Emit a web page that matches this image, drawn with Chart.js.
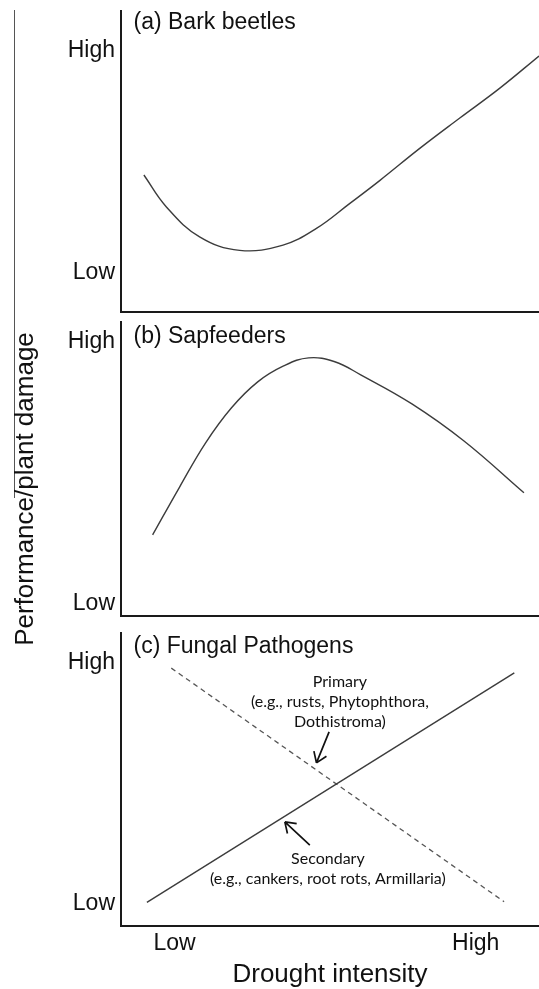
<!DOCTYPE html>
<html>
<head>
<meta charset="utf-8">
<script src="https://cdn.jsdelivr.net/npm/chart.js@4"></script>
<style>
body { margin: 0; background: #fff; }
#wrap { position: relative; width: 539px; height: 989px; overflow: hidden; }
canvas { position: absolute; left: 0; }
#vline { position: absolute; left: 13.5px; top: 10px; width: 1px; height: 488px; background: #555; }
#ytitle { position: absolute; left: -140.7px; top: 474px; width: 330px; height: 30px; line-height: 30px;
  font: 26px 'Liberation Sans', Arial, sans-serif; color: #111; text-align: center; white-space: nowrap;
  transform: rotate(-90deg); }
</style>
</head>
<body>
<div id="wrap">
  <canvas id="chartA" width="539" height="320" style="top:0px"></canvas>
  <canvas id="chartB" width="539" height="300" style="top:320px"></canvas>
  <canvas id="chartC" width="539" height="369" style="top:620px"></canvas>
  <div id="vline"></div>
  <div id="ytitle">Performance/plant damage</div>
</div>
<script>
// both axes: Low = 0, High = 1
const levels = ['Low', 'High'];

// (a) bark beetles
const barkX = [-0.102, -0.028, 0.083, 0.216, 0.360, 0.471, 0.582, 0.682, 0.814, 0.947, 1.080, 1.210];
const barkY = [0.440, 0.297, 0.161, 0.100, 0.124, 0.199, 0.312, 0.416, 0.560, 0.697, 0.832, 0.977];

// (b) sapfeeders
const sapX = [-0.073, 0.017, 0.103, 0.189, 0.276, 0.362, 0.445, 0.532, 0.618, 0.788, 0.961, 1.160];
const sapY = [0.262, 0.446, 0.614, 0.748, 0.847, 0.908, 0.939, 0.924, 0.874, 0.763, 0.621, 0.423];

// (c) fungal pathogens
const secondaryX = [-0.092, 1.128];
const secondaryY = [0.004, 0.958];
const primaryX = [-0.011, 1.094];
const primaryY = [0.978, 0.007];

// labels and arrows in panel (c), data units
const primaryText = ['Primary', '(e.g., rusts, Phytophthora,', 'Dothistroma)'];
const primaryTextX = 0.549;
const primaryTextY = [0.920, 0.837, 0.754];
const secondaryText = ['Secondary', '(e.g., cankers, root rots, Armillaria)'];
const secondaryTextX = 0.509;
const secondaryTextY = [0.187, 0.104];
const primaryArrow = [0.513, 0.713, 0.471, 0.584];    // tail x, y, tip x, y
const secondaryArrow = [0.449, 0.242, 0.366, 0.339];

const MAIN_FONT = "'Liberation Sans', Arial, sans-serif";
Chart.defaults.font.family = MAIN_FONT;
Chart.defaults.color = '#111';

const pts = (xs, ys) => xs.map((v, i) => ({x: v, y: ys[i]}));

// panel title, note texts and arrows
const notes = {
  id: 'notes',
  afterDatasetsDraw(chart, args, opts) {
    const {ctx, chartArea} = chart;
    const sx = chart.scales.x, sy = chart.scales.y;
    ctx.save();
    ctx.fillStyle = '#111';
    ctx.font = '23px ' + MAIN_FONT;
    ctx.textAlign = 'left';
    ctx.textBaseline = 'alphabetic';
    ctx.fillText(opts.title, chartArea.left + 12.5, chartArea.top + opts.titleDy);

    ctx.font = '16px Lato, sans-serif';
    ctx.textAlign = 'center';
    ctx.textBaseline = 'middle';
    (opts.labels || []).forEach(l => {
      l.lines.forEach((t, i) => ctx.fillText(t, sx.getPixelForValue(l.x), sy.getPixelForValue(l.y[i])));
    });

    ctx.strokeStyle = '#111';
    ctx.lineWidth = 1.7;
    (opts.arrows || []).forEach(a => {
      const x0 = sx.getPixelForValue(a[0]), y0 = sy.getPixelForValue(a[1]);
      const x1 = sx.getPixelForValue(a[2]), y1 = sy.getPixelForValue(a[3]);
      const ang = Math.atan2(y0 - y1, x0 - x1);
      ctx.beginPath();
      ctx.moveTo(x0, y0);
      ctx.lineTo(x1, y1);
      [-0.6, 0.6].forEach(d => {
        ctx.moveTo(x1, y1);
        ctx.lineTo(x1 + 12 * Math.cos(ang + d), y1 + 12 * Math.sin(ang + d));
      });
      ctx.stroke();
    });
    ctx.restore();
  }
};

function panel(id, datasets, yMin, yMax, padTop, xHeight, showX, noteOpts) {
  return new Chart(document.getElementById(id), {
    type: 'scatter',
    data: {datasets: datasets},
    plugins: [notes],
    options: {
      responsive: false,
      animation: false,
      layout: {padding: {top: padTop, left: 0, right: 0, bottom: 0}},
      elements: {point: {radius: 0}},
      plugins: {legend: {display: false}, tooltip: {enabled: false}, notes: noteOpts},
      scales: {
        x: {
          type: 'linear', min: -0.178, max: 1.210,
          grid: {display: false, drawTicks: false},
          border: {display: true, color: '#1a1a1a', width: 2},
          afterBuildTicks: s => { s.ticks = [{value: 0}, {value: 1}]; },
          ticks: {display: showX, padding: 4, font: {size: 23}, callback: (v, i) => levels[i]},
          title: {display: showX, text: 'Drought intensity', font: {size: 26, lineHeight: 1},
                  padding: {top: 0, bottom: 1}},
          afterFit: s => { s.height = xHeight; s.paddingLeft = 0; s.paddingRight = 0; }
        },
        y: {
          type: 'linear', min: yMin, max: yMax,
          grid: {display: false, drawTicks: false},
          border: {display: true, color: '#1a1a1a', width: 2},
          afterBuildTicks: s => { s.ticks = [{value: 0}, {value: 1}]; },
          ticks: {padding: 6, font: {size: 23}, callback: (v, i) => levels[i]},
          // labels sit well inside the axis, no overhang padding needed
          afterFit: s => { s.width = 121; s.paddingTop = 0; s.paddingBottom = 0; }
        }
      }
    }
  });
}

const curve = {showLine: true, borderColor: '#3c3c3c', borderWidth: 1.4, tension: 0.4};

panel('chartA', [Object.assign({data: pts(barkX, barkY)}, curve)],
  -0.178, 1.180, 11, 8, false, {title: '(a) Bark beetles', titleDy: 18});

panel('chartB', [Object.assign({data: pts(sapX, sapY)}, curve)],
  -0.048, 1.076, 2, 4, false, {title: '(b) Sapfeeders', titleDy: 21});

panel('chartC', [
    {data: pts(secondaryX, secondaryY), showLine: true, borderColor: '#3c3c3c', borderWidth: 1.4},
    {data: pts(primaryX, primaryY), showLine: true, borderColor: '#555', borderWidth: 1.3, borderDash: [5, 4]}
  ],
  -0.094, 1.124, 13, 63, true, {
    title: '(c) Fungal Pathogens', titleDy: 20,
    labels: [
      {lines: primaryText, x: primaryTextX, y: primaryTextY},
      {lines: secondaryText, x: secondaryTextX, y: secondaryTextY}
    ],
    arrows: [primaryArrow, secondaryArrow]
  });
</script>
</body>
</html>
